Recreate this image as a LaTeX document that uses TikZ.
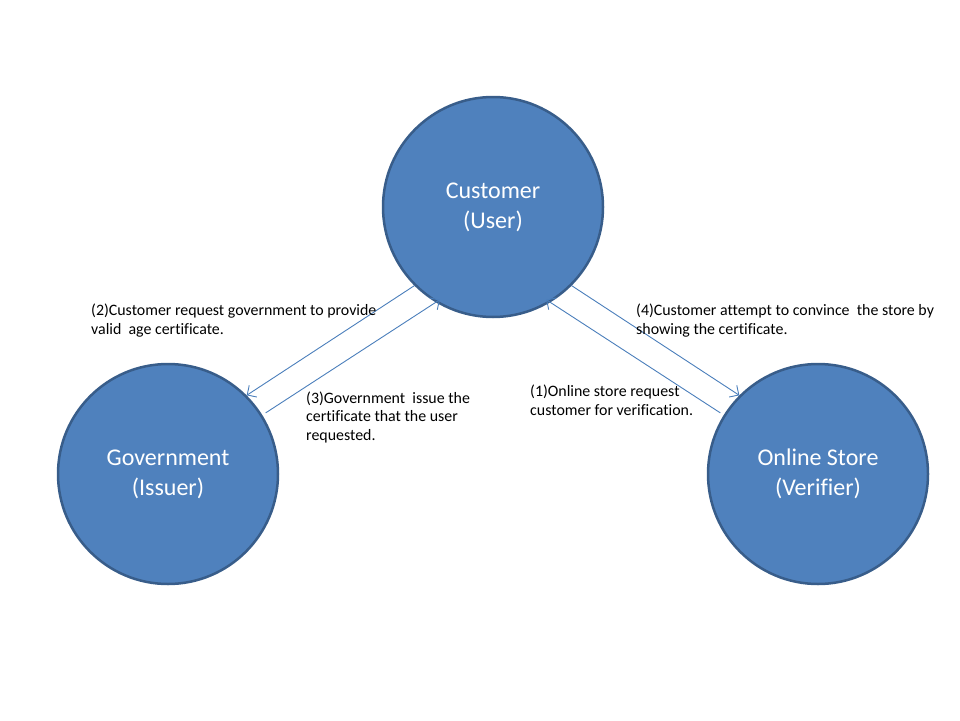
\documentclass[tikz,border=0pt]{standalone}
\usepackage{fontspec}
\setmainfont[Ligatures={NoCommon}]{Carlito}
\usetikzlibrary{arrows.meta}
\definecolor{cfill}{HTML}{4F81BD}
\definecolor{cedge}{HTML}{385D8A}
\definecolor{carrow}{HTML}{4A7EBB}
\tikzset{
  actor/.style={circle, minimum size=220pt, inner sep=0pt, fill=cfill, draw=cedge, line width=2.5pt,
    text=white, align=center, font=\fontsize{24}{30}\selectfont},
  flow/.style={draw=carrow, line width=0.9pt, -{Straight Barb[length=7pt,width=14pt,line width=0.9pt]}},
  lbl/.style={anchor=base west, inner sep=0pt, align=left, font=\fontsize{15.9}{18.5}\selectfont}
}
\begin{document}
\begin{tikzpicture}[x=1pt,y=-1pt]
\useasboundingbox (0,0) rectangle (960,720);
\node[actor] (cust) at (493,207) {Customer\\(User)};
\node[actor] (gov) at (168,474) {Government\\(Issuer)};
\node[actor] (store) at (818,474) {Online Store\\(Verifier)};

\draw[flow] (cust.225) -- (gov.45);
\draw[flow, shorten <=4pt, shorten >=-5pt] (gov.32) -- (cust.239);
\draw[flow] (cust.315) -- (store.135);
\draw[flow, shorten <=4pt, shorten >=-5pt] (store.148) -- (cust.301);

\node[lbl] (t2) at (91,334) {(2)Customer request government to provide\\valid\ \ age certificate.};
\node[lbl] (t3) at (306,440) {(3)Government\ \ issue the\\certificate that the user\\requested.};
\node[lbl] (t1) at (530,415) {(1)Online store request\\customer\ for verification.};
\node[lbl] (t4) at (636,334) {(4)Customer attempt to convince\ \ the store by\\showing the certificate.};
\end{tikzpicture}
\end{document}
